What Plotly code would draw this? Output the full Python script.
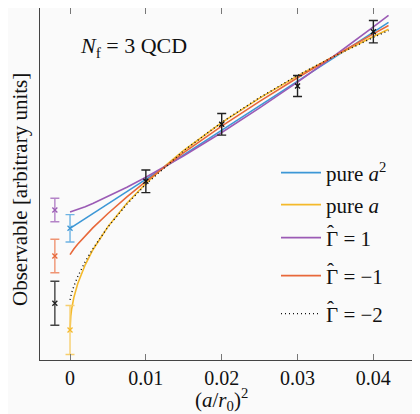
import plotly.graph_objects as go

# ---- data (arbitrary units) ----
x_data = [0.01, 0.02, 0.03, 0.04]
y_data = [1.787, 2.357, 2.740, 3.283]
e_data = [0.113, 0.108, 0.105, 0.112]

# continuum extrapolations: (x position, value, error)
x_ext_a2 = [0.0];     y_ext_a2 = [1.317];  e_ext_a2 = [0.137]
x_ext_a = [0.0];      y_ext_a = [0.300];   e_ext_a = [0.245]
x_ext_g1 = [-0.002];  y_ext_g1 = [1.500];  e_ext_g1 = [0.117]
x_ext_gm1 = [-0.002]; y_ext_gm1 = [1.040]; e_ext_gm1 = [0.167]
x_ext_gm2 = [-0.002]; y_ext_gm2 = [0.567]; e_ext_gm2 = [0.220]

# fit curves (sampled)
x_a2 = [0.0, 0.01, 0.02, 0.03, 0.04, 0.042]
y_a2 = [1.317, 1.808, 2.298, 2.789, 3.279, 3.377]

x_a = [0.0, 0.00005, 0.0001, 0.0002, 0.0005, 0.001, 0.002, 0.003, 0.005, 0.0075,
       0.01, 0.0125, 0.015, 0.02, 0.025, 0.03, 0.035, 0.04, 0.042]
y_a = [0.295, 0.399, 0.442, 0.503, 0.624, 0.760, 0.952, 1.100, 1.334, 1.568,
       1.765, 1.939, 2.095, 2.374, 2.619, 2.841, 3.045, 3.235, 3.308]

x_g1 = [0.0, 0.001, 0.002, 0.003, 0.005, 0.0075, 0.01, 0.015, 0.02, 0.025,
        0.03, 0.035, 0.04, 0.042]
y_g1 = [1.479, 1.504, 1.533, 1.565, 1.634, 1.728, 1.828, 2.043, 2.275, 2.521,
        2.779, 3.050, 3.331, 3.446]

x_gm1 = [0.0, 0.0001, 0.0002, 0.0005, 0.001, 0.002, 0.003, 0.005, 0.0075, 0.01,
         0.015, 0.02, 0.025, 0.03, 0.035, 0.04, 0.042]
y_gm1 = [1.054, 1.067, 1.079, 1.110, 1.157, 1.242, 1.321, 1.465, 1.631, 1.786,
         2.073, 2.338, 2.586, 2.822, 3.046, 3.261, 3.345]

x_gm2 = [0.0, 0.00005, 0.0001, 0.0002, 0.0005, 0.001, 0.002, 0.003, 0.005, 0.0075,
         0.01, 0.015, 0.02, 0.025, 0.03, 0.035, 0.04, 0.042]
y_gm2 = [0.602, 0.624, 0.640, 0.668, 0.737, 0.831, 0.984, 1.112, 1.330, 1.559,
         1.757, 2.093, 2.377, 2.625, 2.846, 3.044, 3.226, 3.294]

x_ticks = [0, 0.01, 0.02, 0.03, 0.04]
x_ticklabels = ["0", "0.01", "0.02", "0.03", "0.04"]

legend_names = ["pure <i>a</i><sup>2</sup>", "pure <i>a</i>",
                "\u0393 = 1", "\u0393 = \u22121", "\u0393 = \u22122"]

FONT = "Liberation Serif"
BLUE, BLUE_L = "#3c97d6", "#6db3e3"
YEL, YEL_L = "#f4b92a", "#f7cf6e"
PUR, PUR_L = "#9b5bb5", "#b484c8"
ORA, ORA_L = "#e8683a", "#ef9473"

# plot area in page pixels: left 40, top 8, width 380, height 352
# (page body has an 8px margin)
def py2paper(py):
    return (360 - py) / 352.0

def px2paper(px):
    return (px - 40) / 380.0

legend_rows_px = [173, 205, 238, 276, 314]

fig = go.Figure()

curves = [
    (x_a2, y_a2, BLUE, "solid"),
    (x_a, y_a, YEL, "solid"),
    (x_g1, y_g1, PUR, "solid"),
    (x_gm1, y_gm1, ORA, "solid"),
    (x_gm2, y_gm2, "#111111", "1px,3px"),
]
for i, (xs, ys, col, dash) in enumerate(curves):
    fig.add_trace(go.Scatter(
        x=xs, y=ys, mode="lines", name=legend_names[i],
        legend="legend" if i == 0 else "legend%d" % (i + 1),
        line=dict(color=col, width=1.6 if dash == "solid" else 1.4, dash=dash),
    ))

pts = [
    (x_ext_a2, y_ext_a2, e_ext_a2, BLUE, BLUE_L),
    (x_ext_a, y_ext_a, e_ext_a, YEL, YEL_L),
    (x_ext_g1, y_ext_g1, e_ext_g1, PUR, PUR_L),
    (x_ext_gm1, y_ext_gm1, e_ext_gm1, ORA, ORA_L),
    (x_ext_gm2, y_ext_gm2, e_ext_gm2, "#222222", "#444444"),
    (x_data, y_data, e_data, "#111111", "#222222"),
]
for xs, ys, es, col, ecol in pts:
    fig.add_trace(go.Scatter(
        x=xs, y=ys, mode="markers", showlegend=False,
        marker=dict(symbol="x-thin", size=5, line=dict(color=col, width=1.3)),
        error_y=dict(type="data", array=es, visible=True, color=ecol,
                     thickness=1.4, width=4.5),
    ))

fig.add_annotation(
    x=px2paper(78), y=py2paper(47), xref="paper", yref="paper",
    xanchor="left", yanchor="middle",
    text="<i>N</i><sub>f</sub> = 3 QCD", showarrow=False,
    font=dict(family=FONT, size=22, color="#111"),
)
fig.add_annotation(
    x=px2paper(221), y=py2paper(400), xref="paper", yref="paper",
    xanchor="center", yanchor="middle",
    text="(<i>a</i>/<i>r</i><sub>0</sub>)<sup>2</sup>", showarrow=False,
    font=dict(family=FONT, size=21, color="#111"),
)
fig.add_annotation(
    x=px2paper(20), y=py2paper(190), xref="paper", yref="paper",
    xanchor="center", yanchor="middle",
    text="Observable [arbitrary units]", showarrow=False, textangle=-90,
    font=dict(family=FONT, size=21, color="#111"),
)
# circumflex over the Gamma in the legend rows
for r in legend_rows_px[2:]:
    fig.add_annotation(
        x=px2paper(330), y=py2paper(r - 5), xref="paper", yref="paper",
        xanchor="center", yanchor="middle", text="\u02c6", showarrow=False,
        font=dict(family=FONT, size=21, color="#111"),
    )

legends = {}
for i, r in enumerate(legend_rows_px):
    key = "legend" if i == 0 else "legend%d" % (i + 1)
    legends[key] = dict(x=px2paper(276), y=py2paper(r), xanchor="left", yanchor="middle",
                        bgcolor="rgba(0,0,0,0)", font=dict(family=FONT, size=21),
                        itemwidth=40)

fig.update_layout(
    width=412, height=406,
    margin=dict(l=32, r=0, t=0, b=54),
    paper_bgcolor="#fafafa", plot_bgcolor="#fafafa",
    font=dict(family=FONT, size=20, color="#111"),
    showlegend=True,
    xaxis=dict(range=[-0.00396, 0.04615], tickvals=x_ticks, ticktext=x_ticklabels,
               ticks="inside", ticklen=6, tickcolor="#777", showgrid=False,
               zeroline=False, showline=True, linecolor="#444", linewidth=1,
               mirror="allticks", automargin=False,
               tickfont=dict(family=FONT, size=20)),
    yaxis=dict(range=[0, 3.52], showticklabels=False, ticks="", showgrid=False,
               zeroline=False, showline=True, linecolor="#444", linewidth=1,
               automargin=False),
    **legends,
)

fig.write_html("out.html")
